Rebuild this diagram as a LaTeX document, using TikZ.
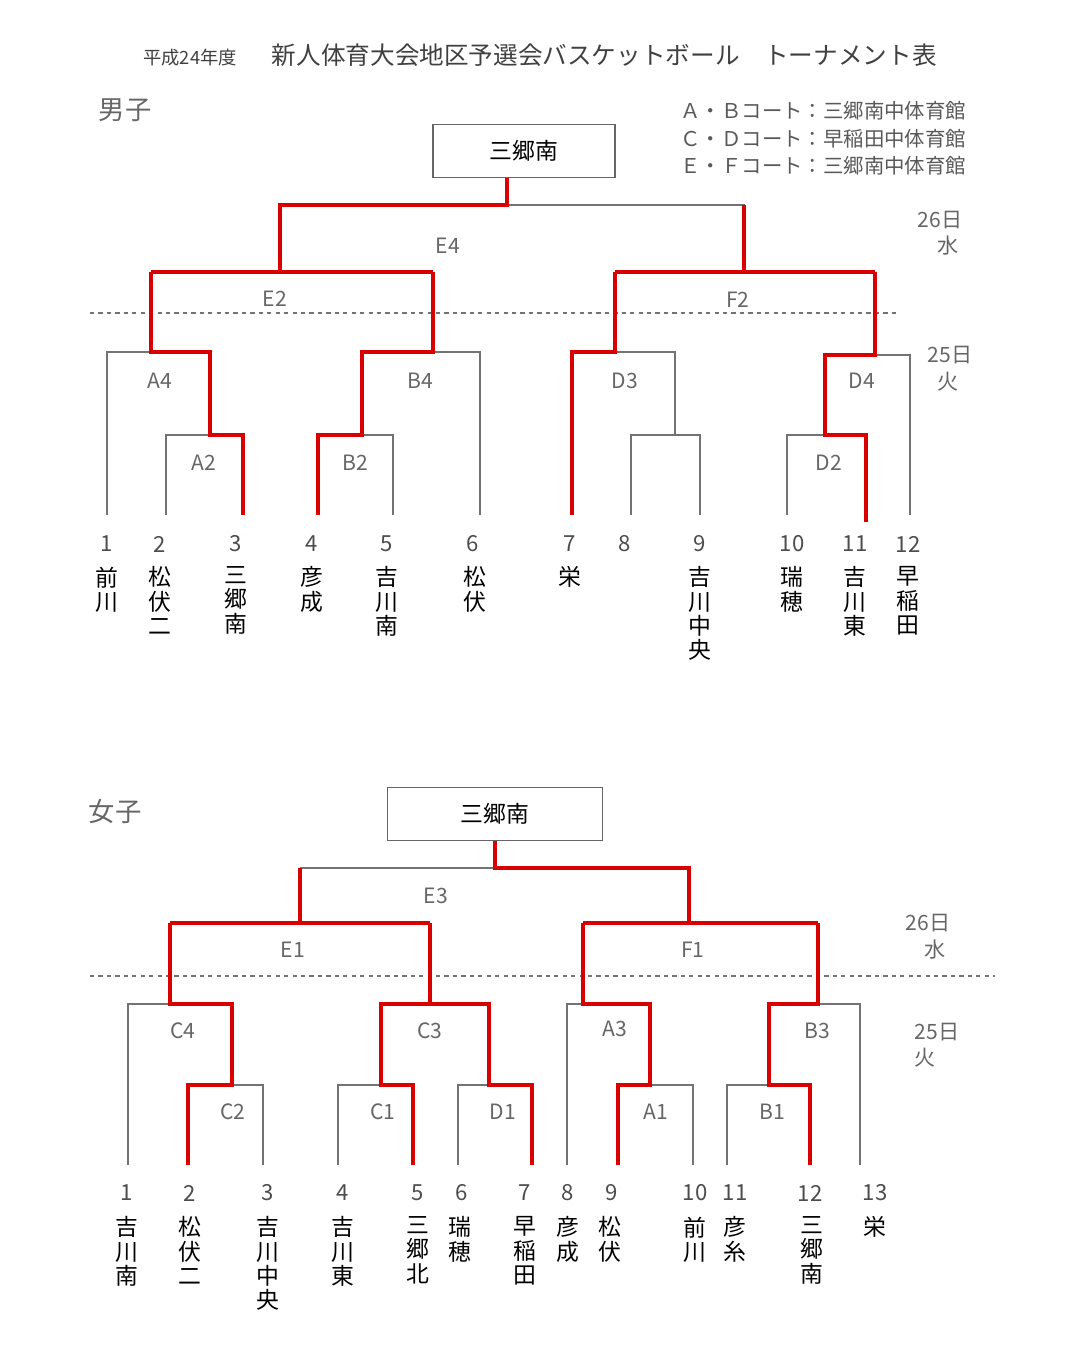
\documentclass[tikz,border=0pt]{standalone}
\usepackage{fontspec}
\setmainfont{Noto Sans CJK JP}
\newfontfamily\cjk{Noto Sans CJK JP}
\tikzset{
  gline/.style={draw=black!55,line width=0.35pt},
  rline/.style={draw=red!85!black,line width=1.1pt},
  dayline/.style={draw=black!55,line width=0.35pt,dash pattern=on 1.2pt off 1.2pt},
  lbl/.style={text=black!60,font=\fontsize{6}{7}\selectfont},
  num/.style={text=black!70,font=\fontsize{6.3}{7}\selectfont},
  vname/.style={anchor=north,align=center,inner sep=0pt,font=\fontsize{6.5}{6.9}\selectfont},
  winbox/.style={draw=black!60,minimum width=1.82cm,minimum height=0.53cm,font=\fontsize{6.5}{7}\selectfont}
}
\begin{document}
\begin{tikzpicture}[x=0.01cm,y=-0.01cm]
  \useasboundingbox (0,0) rectangle (1091,1355);
  % title and notes
  \node[text=black!75] (title) at (540,55) {{\fontsize{5.2}{6}\selectfont 平成24年度}\quad{\fontsize{7}{8}\selectfont 新人体育大会地区予選会バスケットボール　トーナメント表}};
  \node[text=black!60,font=\fontsize{7.5}{8}\selectfont] (boys) at (125,110) {男子};
  \node[text=black!60,font=\fontsize{7.5}{8}\selectfont] (girls) at (115,812) {女子};
  \node[text=black!65,anchor=west,font=\fontsize{5.8}{6.5}\selectfont] (c1) at (668,111) {Ａ・Ｂコート：三郷南中体育館};
  \node[text=black!65,anchor=west,font=\fontsize{5.8}{6.5}\selectfont] (c2) at (668,139) {Ｃ・Ｄコート：早稲田中体育館};
  \node[text=black!65,anchor=west,font=\fontsize{5.8}{6.5}\selectfont] (c3) at (668,166) {Ｅ・Ｆコート：三郷南中体育館};

  % ---- boys ----
  \node[winbox] (bw) at (524,151) {三郷南};
  \draw[dayline] (90,313) -- (900,313);
  \draw[gline] (507,205) -- (744,205) -- (744,272);
  \draw[gline] (433,352) -- (480,352) -- (480,515);
  \draw[gline] (151,352) -- (107,352) -- (107,515);
  \draw[gline] (210,435) -- (166,435) -- (166,515);
  \draw[gline] (362,435) -- (393,435) -- (393,515);
  \draw[gline] (615,352) -- (675,352) -- (675,435);
  \draw[gline] (631,515) -- (631,435) -- (700,435) -- (700,515);
  \draw[gline] (875,355) -- (910,355) -- (910,515);
  \draw[gline] (825,435) -- (787,435) -- (787,515);
  \draw[rline] (bw.south -| 507,0) -- (507,205) -- (280,205) -- (280,272);
  \draw[rline] (151,272) -- (433,272);
  \draw[rline] (151,272) -- (151,352) -- (210,352) -- (210,435) -- (243,435) -- (243,515);
  \draw[rline] (433,272) -- (433,352) -- (362,352) -- (362,435) -- (318,435) -- (318,515);
  \draw[rline] (744,205) -- (744,272);
  \draw[rline] (615,272) -- (875,272);
  \draw[rline] (615,272) -- (615,352) -- (572,352) -- (572,515);
  \draw[rline] (875,272) -- (875,355) -- (825,355) -- (825,435) -- (866,435) -- (866,522);
  \foreach \t/\x/\y in {E4/448/246,E2/275/299,F2/738/300,A4/160/381,A2/204/463,B4/420/381,B2/355/463,D3/625/381,D4/862/381,D2/829/463}
    \node[lbl] (b\t) at (\x,\y) {\t};
  \node[lbl] (bd26) at (940,220) {26日};
  \node[lbl] (bw26) at (948,246) {水};
  \node[lbl] (bd25) at (950,355) {25日};
  \node[lbl] (bw25) at (948,382) {火};
  \foreach \n/\x in {1/107,2/160,3/236,4/312,5/387,6/473,7/570,8/625,9/700,10/792,11/855,12/908}
    \node[num] (bn\n) at (\x,544) {\n};
  \foreach \s/\x in {前\\川/107,松\\伏\\二/160,三\\郷\\南/236,彦\\成/312,吉\\川\\南/387,松\\伏/475,栄/570,吉\\川\\中\\央/700,瑞\\穂/792,吉\\川\\東/855,早\\稲\\田/908}
    \node[vname] at (\x,566) {\s};

  % ---- girls ----
  \node[winbox,minimum width=2.15cm] (gw) at (495,814) {三郷南};
  \draw[dayline] (90,976) -- (995,976);
  \draw[gline] (495,868) -- (300,868);
  \draw[gline] (170,1004) -- (128,1004) -- (128,1165);
  \draw[gline] (232,1085) -- (263,1085) -- (263,1165);
  \draw[gline] (381,1085) -- (338,1085) -- (338,1165);
  \draw[gline] (489,1085) -- (458,1085) -- (458,1165);
  \draw[gline] (583,1004) -- (567,1004) -- (567,1165);
  \draw[gline] (650,1085) -- (693,1085) -- (693,1165);
  \draw[gline] (818,1004) -- (860,1004) -- (860,1165);
  \draw[gline] (769,1085) -- (727,1085) -- (727,1165);
  \draw[rline] (gw.south) -- (495,868) -- (689,868) -- (689,923);
  \draw[rline] (300,868) -- (300,923);
  \draw[rline] (170,923) -- (430,923);
  \draw[rline] (170,923) -- (170,1004) -- (232,1004) -- (232,1085) -- (188,1085) -- (188,1165);
  \draw[rline] (430,923) -- (430,1004) -- (381,1004) -- (381,1085) -- (413,1085) -- (413,1165);
  \draw[rline] (430,1004) -- (489,1004) -- (489,1085) -- (532,1085) -- (532,1165);
  \draw[rline] (583,923) -- (818,923);
  \draw[rline] (583,923) -- (583,1004) -- (650,1004) -- (650,1085) -- (618,1085) -- (618,1165);
  \draw[rline] (818,923) -- (818,1004) -- (769,1004) -- (769,1085) -- (810,1085) -- (810,1165);
  \foreach \t/\x/\y in {E3/436/896,E1/293/950,F1/693/950,C4/183/1031,C3/430/1031,A3/615/1029,B3/817/1031,C2/233/1112,C1/383/1112,D1/503/1112,A1/656/1112,B1/772/1112}
    \node[lbl] (g\t) at (\x,\y) {\t};
  \node[lbl] (gd26) at (928,923) {26日};
  \node[lbl] (gw26) at (935,950) {水};
  \node[lbl] (gd25) at (937,1032) {25日};
  \node[lbl] (gw25) at (925,1058) {火};
  \foreach \n/\x in {1/127,2/190,3/268,4/343,5/418,6/462,7/525,8/568,9/612,10/695,11/735,12/810,13/875}
    \node[num] (gn\n) at (\x,1193) {\n};
  \foreach \s/\x in {吉\\川\\南/127,松\\伏\\二/190,吉\\川\\中\\央/268,吉\\川\\東/343,三\\郷\\北/418,瑞\\穂/460,早\\稲\\田/525,彦\\成/568,松\\伏/610,前\\川/695,彦\\糸/735,三\\郷\\南/812,栄/875}
    \node[vname] at (\x,1216) {\s};
\end{tikzpicture}
\end{document}
